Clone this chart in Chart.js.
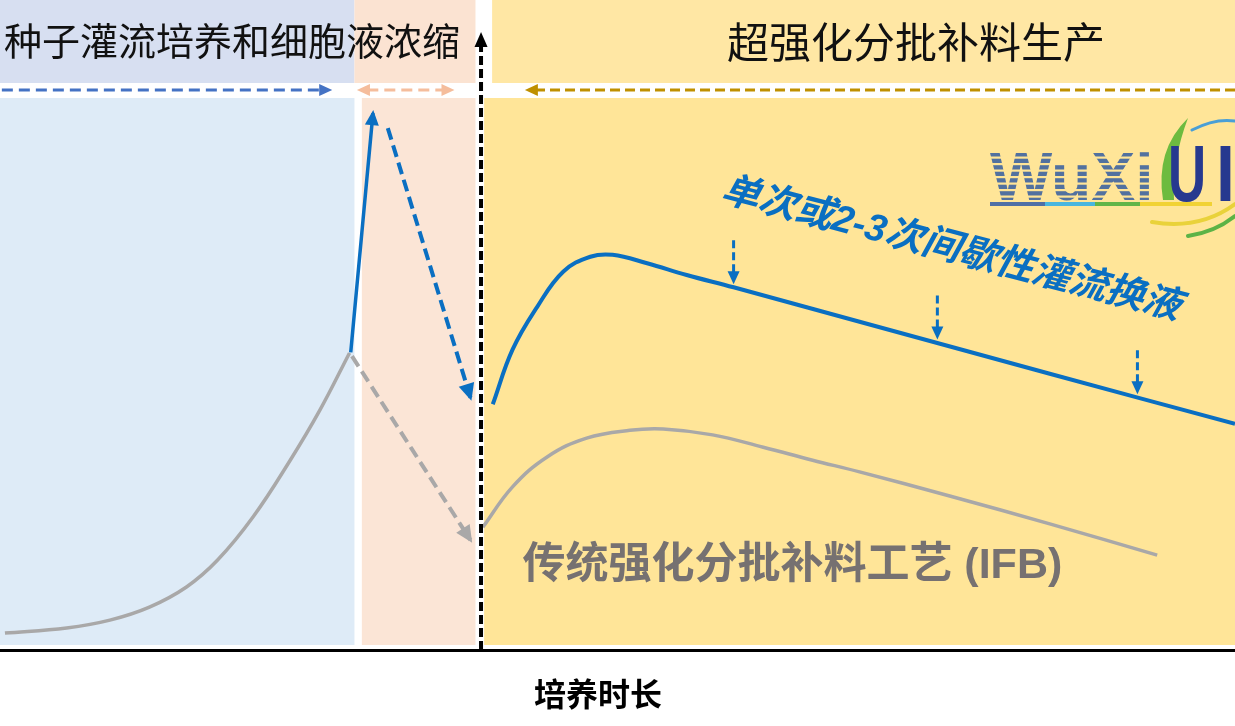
<!DOCTYPE html>
<html><head><meta charset="utf-8">
<script src="https://cdn.jsdelivr.net/npm/chart.js@4.4.1/dist/chart.umd.min.js"></script>
<style>html,body{margin:0;padding:0;background:#fff;overflow:hidden}</style>
</head><body>
<canvas id="c" width="1235" height="726"></canvas>
<script>
// ---- data (relative culture time 0–100, relative viable cell density 0–100) ----
const seedTime      = [0.4, 5.4, 8.9, 12.1, 15.1, 17.6, 20.5, 23.5, 25.9, 28.3];
const seedDensity   = [2.6, 3.4, 4.6, 6.6, 9.7, 13.8, 20.5, 29.2, 36.9, 45.7];
const concTime      = [28.4, 30.2];
const concDensity   = [45.8, 82.6];
const inocTime      = [31.4, 38.1];
const inocDensity   = [80.3, 38.8];
const ifbInocTime   = [28.5, 38.1];
const ifbInocDensity= [45.2, 16.9];
const ufbTime       = [39.9, 41.5, 43.5, 45.6, 47.8, 49.6, 52.4, 55.6, 59.4, 69.6, 85.0, 100];
const ufbDensity    = [37.8, 46.2, 52.8, 58.2, 60.5, 60.8, 59.5, 57.7, 55.8, 50.5, 42.5, 34.8];
const ifbTime       = [39.1, 41.5, 44.3, 47.5, 51.0, 53.7, 57.7, 61.8, 65.8, 69.6, 76.9, 85.0, 93.7];
const ifbDensity    = [18.9, 25.1, 29.7, 32.6, 33.8, 34.0, 33.1, 31.2, 29.2, 27.4, 23.7, 19.4, 14.6];
const exchangeTime    = [59.4, 75.9, 92.1];
const exchangeDensity = [55.8, 47.3, 38.9];
const phaseStart = [0, 29.3, 39.2];
const phaseEnd   = [28.7, 38.5, 100];
const inoculationTime = 38.95;
const phaseTitles = ['种子灌流培养和细胞液浓缩', '超强化分批补料生产'];
const ufbLabel = '单次或2-3次间歇性灌流换液';
const ifbLabel = '传统强化分批补料工艺 (IFB)';
const xTitle = '培养时长';

const zip = (xs, ys) => xs.map((x, i) => ({x, y: ys[i]}));
const BLUE = '#0a6fc2', GRAY = '#a9a8a8';
const CJK = '"Noto Sans CJK SC", "Noto Sans", sans-serif';
const MIX = '"Liberation Sans", "Noto Sans CJK SC", sans-serif';

function head(ctx, fx, fy, tx, ty, len, hw, color) {
  const a = Math.atan2(ty - fy, tx - fx);
  ctx.save(); ctx.translate(tx, ty); ctx.rotate(a);
  ctx.fillStyle = color; ctx.beginPath();
  ctx.moveTo(0, 0); ctx.lineTo(-len, -hw); ctx.lineTo(-len, hw); ctx.closePath(); ctx.fill();
  ctx.restore();
}
function arrow(ctx, x1, y1, x2, y2, color, w, dash, len, hw, both) {
  const a = Math.atan2(y2 - y1, x2 - x1), c = Math.cos(a), s = Math.sin(a);
  let sx = x1, sy = y1;
  if (both) { sx += c * len * 0.8; sy += s * len * 0.8; }
  ctx.save(); ctx.strokeStyle = color; ctx.lineWidth = w; ctx.setLineDash(dash);
  ctx.beginPath(); ctx.moveTo(sx, sy); ctx.lineTo(x2 - c * len * 0.8, y2 - s * len * 0.8); ctx.stroke();
  ctx.restore();
  head(ctx, x1, y1, x2, y2, len, hw, color);
  if (both) head(ctx, x2, y2, x1, y1, len, hw, color);
}

const L = { headTop: 0, headBottom: 83, lowTop: 98, arrowY: 90 };

const bgPlugin = {
  id: 'bg',
  beforeDatasetsDraw(chart) {
    const ctx = chart.ctx, X = v => chart.scales.x.getPixelForValue(v);
    const bottom = chart.chartArea.bottom - 5;
    ctx.save();
    ctx.fillStyle = '#d7dff1'; ctx.fillRect(X(phaseStart[0]), L.headTop, X(phaseEnd[0]) - X(phaseStart[0]), L.headBottom);
    ctx.fillStyle = '#fbe3d2'; ctx.fillRect(X(phaseEnd[0]), L.headTop, X(phaseEnd[1]) - X(phaseEnd[0]), L.headBottom);
    ctx.fillStyle = '#ffe7a4'; ctx.fillRect(X(phaseStart[2]) + 8, L.headTop, X(phaseEnd[2]) - X(phaseStart[2]) - 8, L.headBottom);
    const low = ['#deebf7', '#fbe5d6', '#ffe598'];
    for (let i = 0; i < 3; i++) {
      ctx.fillStyle = low[i];
      ctx.fillRect(X(phaseStart[i]), L.lowTop, X(phaseEnd[i]) - X(phaseStart[i]), bottom - L.lowTop);
    }
    ctx.restore();
  }
};

function drawLogo(ctx) {
  ctx.save();
  ctx.font = 'bold 68px "Liberation Sans", sans-serif';
  ctx.fillStyle = '#52719f';
  ctx.textBaseline = 'alphabetic';
  ctx.save(); ctx.translate(990, 200); ctx.scale(0.97, 1); ctx.fillText('WuXi', 0, 0); ctx.restore();
  ctx.fillStyle = '#ffe598';
  for (let y = 150; y < 200; y += 6.5) ctx.fillRect(985, y, 175, 2.2);
  const segs = [[990, 1045, '#4f6fa6'], [1045, 1095, '#49b6df'], [1095, 1140, '#62b548'], [1140, 1212, '#f1d234']];
  segs.forEach(s => { ctx.fillStyle = s[2]; ctx.fillRect(s[0], 202, s[1] - s[0], 4); });
  ctx.fillStyle = '#6dbb3f';
  ctx.beginPath();
  ctx.moveTo(1163, 200); ctx.quadraticCurveTo(1155, 150, 1188, 118);
  ctx.quadraticCurveTo(1172, 160, 1174, 200); ctx.closePath(); ctx.fill();
  ctx.fillStyle = '#27398f';
  ctx.font = 'bold 80px "Liberation Sans", sans-serif';
  ctx.save(); ctx.translate(1168, 201); ctx.scale(0.66, 1); ctx.fillText('U', 0, 0); ctx.restore();
  ctx.save(); ctx.translate(1216, 201); ctx.scale(0.85, 1); ctx.fillText('I', 0, 0); ctx.restore();
  ctx.lineCap = 'round';
  ctx.strokeStyle = '#4a9fd6'; ctx.lineWidth = 3;
  ctx.beginPath(); ctx.moveTo(1192, 130); ctx.quadraticCurveTo(1215, 118, 1235, 121); ctx.stroke();
  ctx.strokeStyle = '#e9d23a'; ctx.lineWidth = 4;
  ctx.beginPath(); ctx.moveTo(1152, 222); ctx.quadraticCurveTo(1200, 230, 1235, 204); ctx.stroke();
  ctx.strokeStyle = '#5cb346'; ctx.lineWidth = 4;
  ctx.beginPath(); ctx.moveTo(1188, 236); ctx.quadraticCurveTo(1215, 232, 1235, 216); ctx.stroke();
  ctx.restore();
}

const annoPlugin = {
  id: 'anno',
  afterDatasetsDraw(chart) {
    const ctx = chart.ctx, X = v => chart.scales.x.getPixelForValue(v), Y = v => chart.scales.y.getPixelForValue(v);
    const ca = chart.chartArea;
    chart.data.datasets.forEach((ds, i) => {
      if (!ds.arrowEnd) return;
      const pts = chart.getDatasetMeta(i).data, n = pts.length;
      const p = pts[n - 2], q = pts[n - 1];
      const a = Math.atan2(q.y - p.y, q.x - p.x);
      head(ctx, p.x, p.y, q.x + Math.cos(a) * 3, q.y + Math.sin(a) * 3, ds.headLen, ds.headHalf, ds.borderColor);
    });
    ctx.save();
    ctx.fillStyle = '#111'; ctx.textBaseline = 'middle';
    ctx.font = '38px ' + CJK; ctx.textAlign = 'left';
    ctx.fillText(phaseTitles[0], 4, 41);
    ctx.font = '42px ' + CJK; ctx.textAlign = 'center';
    ctx.fillText(phaseTitles[1], 916, 42);
    ctx.restore();
    arrow(ctx, X(0.15), L.arrowY, X(26.9), L.arrowY, '#4472c4', 3, [11, 6], 13, 6, false);
    arrow(ctx, X(28.9), L.arrowY, X(36.8), L.arrowY, '#f5bd9c', 3, [11, 6], 13, 6, true);
    arrow(ctx, ca.right, L.arrowY, X(42.5), L.arrowY, '#bf9000', 3, [10, 5], 13, 6, false);
    const ix = X(inoculationTime);
    ctx.save(); ctx.strokeStyle = '#000'; ctx.lineWidth = 4; ctx.setLineDash([9, 4]);
    ctx.beginPath(); ctx.moveTo(ix, ca.bottom); ctx.lineTo(ix, 46); ctx.stroke(); ctx.restore();
    head(ctx, ix, 100, ix, 32, 15, 6.5, '#000');
    exchangeTime.forEach((t, i) => {
      const x = X(t), y = Y(exchangeDensity[i]) - 3;
      arrow(ctx, x, y - 44, x, y, BLUE, 3, [8, 4], 13, 6, false);
    });
    ctx.save();
    ctx.translate(X(77.0), Y(61.6)); ctx.rotate(14.6 * Math.PI / 180);
    ctx.font = 'italic bold 38px ' + MIX; ctx.fillStyle = BLUE;
    ctx.textAlign = 'center'; ctx.textBaseline = 'middle';
    ctx.fillText(ufbLabel, 0, 0);
    ctx.restore();
    ctx.save();
    ctx.font = 'bold 43px ' + MIX; ctx.fillStyle = '#767171';
    ctx.textAlign = 'left'; ctx.textBaseline = 'middle';
    ctx.fillText(ifbLabel, X(42.3), 566);
    ctx.fillStyle = '#000'; ctx.font = 'bold 32px ' + CJK; ctx.textAlign = 'center';
    ctx.fillText(xTitle, 598, 694);
    ctx.restore();
    drawLogo(ctx);
  }
};

const ds = (data, color, width, extra) => Object.assign({
  data, borderColor: color, borderWidth: width, pointRadius: 0, fill: false,
  tension: 0.4, borderCapStyle: 'butt'
}, extra || {});

new Chart(document.getElementById('c'), {
  type: 'line',
  data: {
    datasets: [
      ds(zip(seedTime, seedDensity), GRAY, 3.5),
      ds(zip(ifbInocTime, ifbInocDensity), GRAY, 4, {borderDash: [12, 6], arrowEnd: true, headLen: 17, headHalf: 8}),
      ds(zip(ifbTime, ifbDensity), GRAY, 3.5),
      ds(zip(concTime, concDensity), BLUE, 3.5, {arrowEnd: true, headLen: 15, headHalf: 7}),
      ds(zip(inocTime, inocDensity), BLUE, 4, {borderDash: [12, 6], arrowEnd: true, headLen: 17, headHalf: 8}),
      ds(zip(ufbTime, ufbDensity), BLUE, 4)
    ]
  },
  options: {
    responsive: false, animation: false, devicePixelRatio: 1,
    layout: { padding: { left: 0, right: 0, top: 0, bottom: 76 } },
    scales: {
      x: { type: 'linear', min: 0, max: 100,
           ticks: { display: false }, grid: { display: false, drawTicks: false },
           border: { display: true, color: '#000', width: 3 } },
      y: { type: 'linear', min: 0, max: 100, display: false }
    },
    plugins: { legend: { display: false }, tooltip: { enabled: false } }
  },
  plugins: [bgPlugin, annoPlugin]
});
</script>
</body></html>
